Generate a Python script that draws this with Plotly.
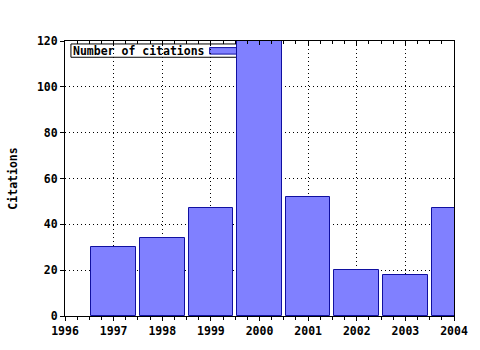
import plotly.graph_objects as go

years = [1997, 1998, 1999, 2000, 2001, 2002, 2003, 2004]
citations = [30, 34, 47, 128, 52, 20, 18, 47]
y_ticks = [0, 20, 40, 60, 80, 100, 120]
x_ticks = [1996, 1997, 1998, 1999, 2000, 2001, 2002, 2003, 2004]
series_name = "Number of citations"

FONT = dict(family="DejaVu Sans Mono", size=11.5, color="black", weight="bold")

fig = go.Figure()
fig.add_trace(go.Bar(
    x=years, y=citations, width=0.92, name=series_name,
    marker=dict(color="#8080FF", line=dict(color="#1010A0", width=1)),
    showlegend=False,
))
# invisible trace so the top axis gets drawn
fig.add_trace(go.Scatter(x=[1996, 2004], y=[0, 0], xaxis="x2", mode="markers",
                         marker=dict(opacity=0), showlegend=False, hoverinfo="skip"))

W, H = 394, 279
fig.update_layout(
    width=480, height=350,
    margin=dict(l=65, r=21, t=41, b=30),
    paper_bgcolor="white", plot_bgcolor="white",
    font=FONT,
    bargap=0,
    xaxis=dict(
        range=[1996, 2004], tickvals=x_ticks, ticktext=[str(v) for v in x_ticks],
        showgrid=True, gridcolor="black", griddash="1px,3px", gridwidth=1,
        showline=True, linecolor="black", linewidth=1, mirror=True,
        ticks="outside", ticklen=4, tickcolor="black",
        minor=dict(dtick=0.25, ticks="outside", ticklen=3, tickcolor="black", showgrid=False),
        zeroline=False, tickfont=FONT,
    ),
    xaxis2=dict(
        range=[1996, 2004], overlaying="x", side="top",
        tickvals=x_ticks, showticklabels=False, showgrid=False,
        ticks="inside", ticklen=4, tickcolor="black",
        minor=dict(dtick=0.25, ticks="inside", ticklen=3, tickcolor="black", showgrid=False),
        showline=False, zeroline=False,
    ),
    yaxis=dict(
        range=[0, 120], tickvals=y_ticks,
        showgrid=True, gridcolor="black", griddash="1px,3px", gridwidth=1,
        showline=True, linecolor="black", linewidth=1, mirror=True,
        ticks="outside", ticklen=4, tickcolor="black",
        zeroline=False, tickfont=FONT,
        title=dict(text="Citations", font=FONT, standoff=16),
    ),
)

# legend box (drawn below bars, like the reference)
fig.add_shape(type="rect", xref="paper", yref="paper", layer="below",
              x0=6/W, x1=200/W, y0=1-16.5/H, y1=1-3/H,
              line=dict(color="black", width=1), fillcolor="white")
fig.add_shape(type="rect", xref="paper", yref="paper", layer="below",
              x0=146.5/W, x1=185/W, y0=1-13.3/H, y1=1-6.7/H,
              line=dict(color="#1010A0", width=1), fillcolor="#8080FF")
fig.add_annotation(xref="paper", yref="paper", x=6.5/W, y=1-9.8/H,
                   xanchor="left", yanchor="middle", text=series_name,
                   showarrow=False, font=FONT)

fig.write_html("out.html")
